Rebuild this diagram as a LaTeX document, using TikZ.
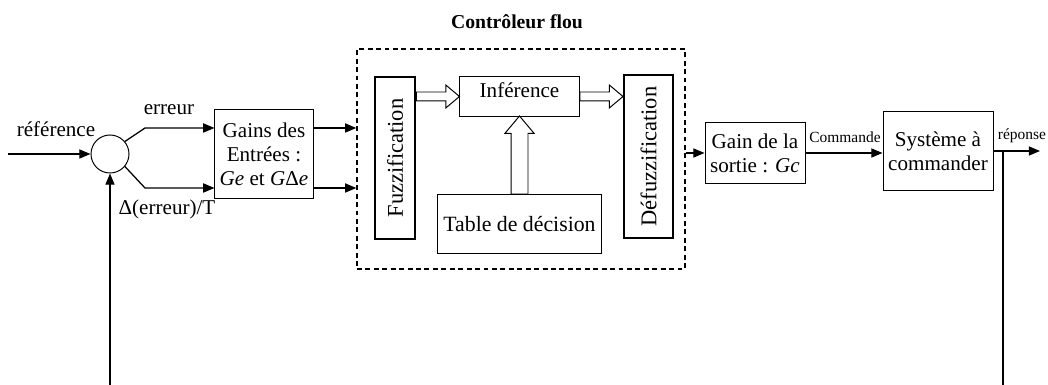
\documentclass[tikz,border=0pt]{standalone}
\usepackage{fontspec}
\setmainfont{Liberation Serif}
\usetikzlibrary{arrows.meta,positioning,calc,shapes.arrows}

\begin{document}
\begin{tikzpicture}[x=0.025cm,y=-0.025cm,>={Triangle[length=8pt,width=6.5pt]},
  font=\fontsize{15}{17}\selectfont,
  box/.style={draw,line width=0.7pt,align=center,inner sep=0pt},
  heavybox/.style={box,line width=1.4pt,font=\fontsize{16}{18}\selectfont},
  flow/.style={->,line width=0.9pt},
  hollow/.style={draw,line width=0.7pt,single arrow,inner xsep=0pt,single arrow tip angle=80},
  small/.style={font=\fontsize{11}{13}\selectfont}]
  \useasboundingbox (0,0) rectangle (1048,385);
  % blocks
  \node[circle,draw,line width=0.7pt,minimum size=0.95cm,inner sep=0pt] (sum) at (110,154) {};
  \node[box,minimum width=2.45cm,minimum height=2.2cm] (gains) at (264,154) {Gains des\\Entrées :\\\textit{Ge} et \textit{G}Δ\textit{e}};
  \node[box,dash pattern=on 3.5pt off 2.5pt,line width=0.9pt,minimum width=8.2cm,minimum height=5.5cm] (ctrl) at (521,159) {};
  \node[font=\bfseries\fontsize{14}{16}\selectfont] (title) at (517,22) {Contrôleur flou};
  \node[heavybox,rotate=90,minimum width=4.05cm,minimum height=1cm] (fuzz) at (395,158) {Fuzzification};
  \node[box,minimum width=2.975cm,minimum height=0.975cm,text depth=0.3cm] (inf) at (519.5,96.5) {Inférence};
  \node[heavybox,rotate=90,minimum width=4.075cm,minimum height=1.225cm] (defuz) at (648.5,156.5) {Défuzzification};
  \node[box,minimum width=4.075cm,minimum height=1.45cm,font=\fontsize{15.5}{17}\selectfont] (table) at (519.5,224) {Table de décision};
  \node[box,minimum width=2.5cm,minimum height=1.5cm] (gainc) at (755,153) {Gain de la\\sortie : \textit{Gc}};
  \node[box,minimum width=2.75cm,minimum height=1.95cm] (sys) at (938,151) {Système à\\commander};
  % labels
  \node (ref) at (56,129) {référence};
  \node (err) at (169,110) {erreur};
  \node (derr) at (167,209) {Δ(erreur)/T};
  \node[small] (cmd) at (845,137) {Commande};
  \node[small] (rep) at (1022,136) {réponse};
  % hollow arrows inside the controller
  \node[hollow,minimum height=1.075cm,inner ysep=0.1cm,single arrow head extend=0.175cm,anchor=tail] (a1) at (fuzz.south |- inf.west) {};
  \node[hollow,minimum height=1.075cm,inner ysep=0.1cm,single arrow head extend=0.175cm,anchor=tail] (a2) at (inf.east) {};
  \node[hollow,rotate=90,minimum height=1.95cm,inner ysep=0.2cm,single arrow head extend=0.15cm,anchor=tail] (a3) at (table.north) {};
  % signal lines
  \coordinate (in) at (8,154);
  \coordinate (e1) at (145,128);
  \coordinate (d1) at (145,188);
  \coordinate (out) at (1040,151);
  \coordinate (fbR) at (1003,386);
  \coordinate (fbL) at (110,386);
  \draw[flow] (in) -- (sum);
  \draw[flow] (sum.40) -- (e1) -- (e1 -| gains.west);
  \draw[flow] (sum.-40) -- (d1) -- (d1 -| gains.west);
  \draw[flow] (e1 -| gains.east) -- (e1 -| ctrl.west);
  \draw[flow] (d1 -| gains.east) -- (d1 -| ctrl.west);
  \draw[flow] (ctrl.east |- gainc) -- (gainc);
  \draw[flow] (gainc.east) -- (gainc.east -| sys.west);
  \draw[flow] (sys.east) -- (out);
  \draw[line width=0.9pt] (sys.east -| fbR) -- (fbR);
  \draw[flow] (fbL) -- (sum);
\end{tikzpicture}
\end{document}
